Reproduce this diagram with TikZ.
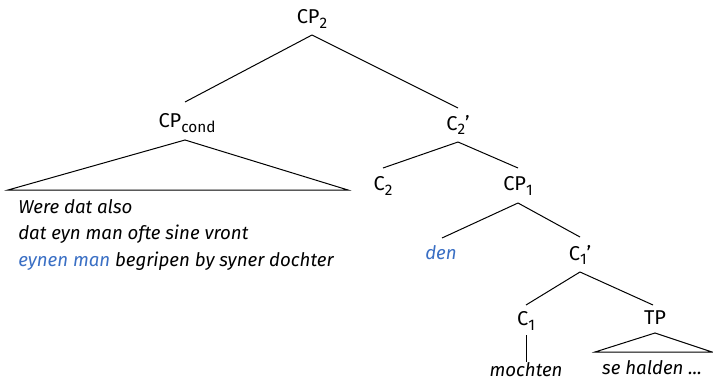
\documentclass[tikz,border=0pt]{standalone}
\usepackage{fontspec}
\setmainfont{Fira Sans}
\definecolor{lingblue}{HTML}{3A6FC4}
\newcommand{\lsub}[1]{\raisebox{-0.45ex}{\fontsize{11.5pt}{12pt}\selectfont #1}}
\begin{document}
\begin{tikzpicture}[x=0.75pt,y=-0.75pt,
  cat/.style={inner sep=0pt,font=\fontsize{15pt}{17pt}\selectfont},
  leaf/.style={inner sep=0pt,font=\fontsize{14pt}{16pt}\selectfont\itshape},
  edge/.style={draw=black,line width=0.75pt},
  tri/.style={draw=black,line width=0.75pt}]
\useasboundingbox (0,0) rectangle (713,381);
% nodes
\node[cat] (cp2) at (312,19) {CP\lsub{2}};
\node[cat] (cpcond) at (187,123) {CP\lsub{cond}};
\node[cat] (c2bar) at (458,125) {C\lsub{2}'};
\node[cat] (c2) at (383,186) {C\lsub{2}};
\node[cat] (cp1) at (518,186) {CP\lsub{1}};
\node[leaf,text=lingblue] (den) at (441,253) {den};
\node[cat] (c1bar) at (580,255) {C\lsub{1}'};
\node[cat] (c1) at (526,321) {C\lsub{1}};
\node[cat] (tp) at (655,318) {TP};
\node[leaf] (mochten) at (526,370) {mochten};
\node[leaf] (halden) at (652,368) {se halden ...};
\node[leaf,anchor=west] (l1) at (18,207) {Were dat also};
\node[leaf,anchor=west] (l2) at (18,234) {dat eyn man ofte sine vront};
\node[leaf,anchor=west] (l3) at (18,261) {\textcolor{lingblue}{eynen man} begripen by syner dochter};
% coordinates
\coordinate (cp2b) at (312,35);
\coordinate (cpcondt) at (185,102);
\coordinate (c2bart) at (458,108);
\coordinate (c2barb) at (458,142);
\coordinate (c2t) at (383,168);
\coordinate (cp1t) at (518,168);
\coordinate (cp1b) at (518,203);
\coordinate (dent) at (442,238);
\coordinate (c1bart) at (580,237);
\coordinate (c1barb) at (580,272);
\coordinate (c1t) at (526,305);
\coordinate (tpt) at (653,305);
\coordinate (c1b) at (526,335);
\coordinate (mocht) at (526,362);
% edges
\draw[edge] (cp2b) -- (cpcondt);
\draw[edge] (cp2b) -- (c2bart);
\draw[edge] (c2barb) -- (c2t);
\draw[edge] (c2barb) -- (cp1t);
\draw[edge] (cp1b) -- (dent);
\draw[edge] (cp1b) -- (c1bart);
\draw[edge] (c1barb) -- (c1t);
\draw[edge] (c1barb) -- (tpt);
\draw[edge] (c1b) -- (mocht);
% triangles
\draw[tri] (185,140) -- (348,190) -- (8,190) -- cycle;
\draw[tri] (655,333) -- (712,352) -- (595,352) -- cycle;
\end{tikzpicture}
\end{document}
